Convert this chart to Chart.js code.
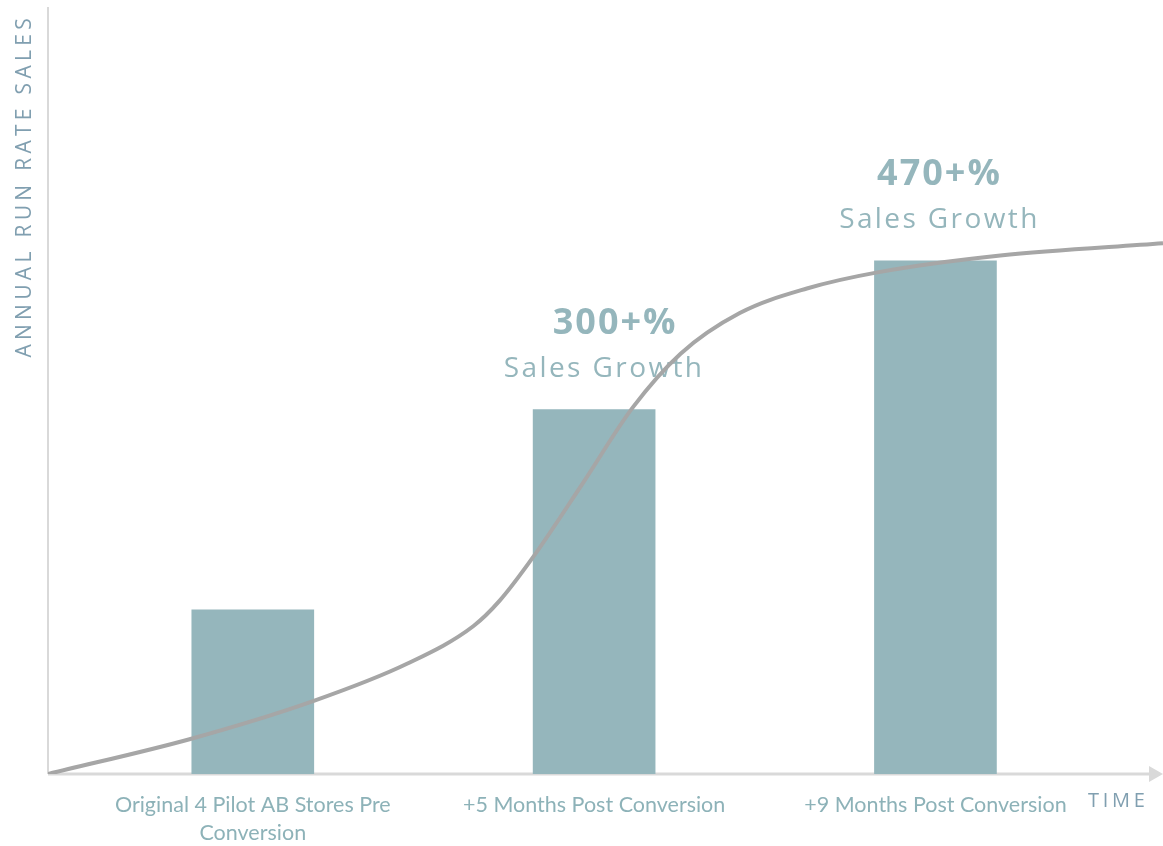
<!DOCTYPE html>
<html>
<head>
<meta charset="utf-8">
<script src="https://cdn.jsdelivr.net/npm/chart.js@4.4.1/dist/chart.umd.min.js"></script>
<style>
  html, body { margin: 0; padding: 0; background: #fff; }
  #wrap { width: 1163px; height: 846px; }
</style>
</head>
<body>
<div id="wrap"><canvas id="myChart"></canvas></div>
<script>
// categories (multi-line labels) and where they sit on the time axis
const categories = [
    ['Original 4 Pilot AB Stores Pre', 'Conversion'],
    ['+5 Months Post Conversion'],
    ['+9 Months Post Conversion'],
];
const barX = [2, 5, 8];
const barValues = [21.4, 47.5, 66.9];
const growthLabels = ['', '300+%', '470+%'];
const growthSub = ['', 'Sales Growth', 'Sales Growth'];

// s-curve
const curveX = [0.2, 1.46, 2.53, 3.36, 3.94, 4.17, 4.46, 4.9, 5.34, 5.76, 6.28, 6.87, 7.49, 8.57, 10];
const curveY = [0, 4.6, 9.5, 14.4, 19.3, 22.6, 28.2, 37.9, 47.8, 54.8, 60.1, 63.3, 65.4, 67.6, 69.2];

const yTitle = 'ANNUAL RUN RATE SALES';
const xTitle = 'TIME';

const TEAL = '#95b6bc';
const LABEL = '#8db2b8';
const AXIS_TITLE = '#809fb0';
const AXIS = '#d9d9d9';

const decorPlugin = {
    id: 'decor',
    beforeDatasetsDraw(chart) {
        const { ctx, chartArea: a, scales } = chart;
        ctx.save();
        // y axis
        ctx.strokeStyle = AXIS;
        ctx.lineWidth = 2;
        ctx.beginPath();
        ctx.moveTo(a.left, a.top);
        ctx.lineTo(a.left, a.bottom);
        ctx.stroke();
        // x axis with arrow
        ctx.lineWidth = 3;
        ctx.beginPath();
        ctx.moveTo(a.left, a.bottom);
        ctx.lineTo(a.right - 12, a.bottom);
        ctx.stroke();
        ctx.fillStyle = AXIS;
        ctx.beginPath();
        ctx.moveTo(a.right, a.bottom);
        ctx.lineTo(a.right - 14, a.bottom - 8);
        ctx.lineTo(a.right - 14, a.bottom + 8);
        ctx.closePath();
        ctx.fill();

        // axis titles
        ctx.fillStyle = AXIS_TITLE;
        ctx.font = '21px "Open Sans"';
        ctx.letterSpacing = '4.3px';
        ctx.textBaseline = 'middle';
        ctx.save();
        ctx.translate(25, 14);
        ctx.rotate(-Math.PI / 2);
        ctx.textAlign = 'right';
        ctx.fillText(yTitle, 0, 0);
        ctx.restore();
        ctx.textAlign = 'left';
        ctx.font = '20px "Open Sans"';
        ctx.letterSpacing = '3.7px';
        ctx.fillText(xTitle, 1088, 801);

        // category labels under the bars
        ctx.letterSpacing = '0px';
        ctx.fillStyle = LABEL;
        ctx.font = '21.5px Lato';
        ctx.textAlign = 'center';
        barX.forEach((xv, i) => {
            const px = scales.x.getPixelForValue(xv);
            categories[i].forEach((line, j) => {
                ctx.fillText(line, px, a.bottom + 31 + j * 28);
            });
        });

        // growth annotations
        const pctOff = [0, 21, 4];
        const subOff = [0, 10, 4];
        ctx.fillStyle = TEAL;
        ctx.textBaseline = 'alphabetic';
        barX.forEach((xv, i) => {
            if (!growthLabels[i]) return;
            const px = scales.x.getPixelForValue(xv);
            const top = scales.y.getPixelForValue(barValues[i]);
            ctx.letterSpacing = '2px';
            ctx.font = 'bold 36px "Open Sans"';
            ctx.fillText(growthLabels[i], px + pctOff[i], top - 76);
            ctx.letterSpacing = '2.4px';
            ctx.font = '28px "Open Sans"';
            ctx.fillText(growthSub[i], px + subOff[i], top - 33);
        });
        ctx.restore();
    },
};

const ctx = document.getElementById('myChart').getContext('2d');
const myChart = new Chart(ctx, {
    type: 'bar',
    data: {
        datasets: [
            {
                type: 'line',
                data: curveX.map((x, i) => ({ x, y: curveY[i] })),
                borderColor: '#a6a6a6',
                borderWidth: 4,
                pointRadius: 0,
                cubicInterpolationMode: 'monotone',
                order: 0,
            },
            {
                type: 'bar',
                data: barX.map((x, i) => ({ x, y: barValues[i] })),
                backgroundColor: TEAL,
                barThickness: 122,
                order: 1,
            },
        ],
    },
    options: {
        responsive: true,
        maintainAspectRatio: false,
        animation: false,
        layout: { padding: { left: 48, top: 7, right: 0, bottom: 72 } },
        plugins: { legend: { display: false }, tooltip: { enabled: false } },
        scales: {
            x: {
                type: 'linear',
                display: false,
                offset: false,
                min: 0.2,
                max: 10,
            },
            y: {
                display: false,
                min: 0,
                max: 100,
            },
        },
    },
    plugins: [decorPlugin],
});
</script>
</body>
</html>
